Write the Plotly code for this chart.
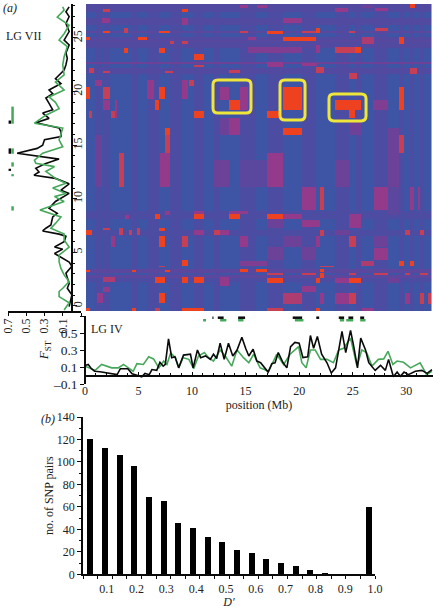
import plotly.graph_objects as go

W, H = 433, 609
FONT = "Liberation Serif"
INK = "#222222"
BLACK = "#0a0a0a"
GREEN = "#46A85A"

# ---- panel (a): LG IV scan (position in Mb, FST)
lg4_black_pos = [0,0.3,0.6,0.9,1.4,2,3,3.3,4,4.4,5.1,5.3,5.6,6,6.25,6.7,7,7.3,7.5,7.8,8.1,8.4,8.75,9.2,9.85,10.1,10.5,10.8,11.25,11.7,12,12.3,12.62,13,13.4,13.8,14.2,14.65,15,15.3,15.7,16.05,16.4,17.1,17.45,17.75,18.05,18.5,18.85,19.2,19.6,20,20.35,20.8,21.05,21.35,21.7,22.1,22.6,23,23.4,24,24.35,24.8,25.1,25.45,25.75,26.2,26.5,27.1,27.6,28.05,28.35,28.8,29.15,29.45,29.8,30.2,30.85,31.45,31.95,32.4]
lg4_black_fst = [.117,.13,.08,.05,.045,.03,.01,.08,.08,.02,-.01,-.015,.025,.01,.07,.06,.155,.11,.13,.43,.21,.22,.09,.24,.25,.09,.30,.21,.23,.19,.25,.2,.38,.19,.38,.23,.3,.45,.32,.23,.31,.17,.15,.04,.14,.15,.27,.15,.09,.34,.39,.38,.21,.22,.47,.32,.46,.25,.15,.03,.09,.52,.27,.53,.34,.09,.44,.30,.15,.06,.12,.06,.19,-.015,.04,-.01,.04,.01,.05,.06,.025,.07]
lg4_green_pos = [0,.95,1.55,2,2.5,3.1,3.6,4.05,4.5,4.85,5.45,5.95,6.4,6.9,7.35,7.65,8,8.45,8.75,9.15,9.7,10.15,10.6,11.15,11.55,12,12.62,13.1,13.7,14.2,14.8,15.3,15.75,16.35,17.15,17.9,18.55,19.15,19.95,20.25,20.65,21.05,21.5,22,22.6,23.2,23.7,24.15,24.8,25.4,25.85,26.3,26.8,27.4,27.9,28.3,28.75,29.15,29.75,30.4,31.3,31.9,32.4]
lg4_green_fst = [.11,.06,.13,.11,.09,.09,.13,.09,.05,.14,.13,.22,.195,.09,.17,.13,.265,.21,.09,.21,.19,.08,.23,.27,.21,.17,.30,.23,.11,.30,.21,.15,.25,.09,.05,.25,.13,.25,.34,.15,.09,.30,.30,.19,.19,.15,.30,.32,.44,.11,.30,.27,.11,.19,.195,.285,.13,.17,.155,.09,.15,.01,.05]

# ---- panel (a): LG VII scan (position in Mb, FST)
lg7_black_pos = [-0.06,1.03,1.65,2.1,3.05,3.7,4.1,4.6,4.9,5.3,5.5,6,6.5,6.7,7,7.25,7.55,8.3,8.65,9.1,9.75,10.5,10.8,11.4,11.9,12.2,12.5,12.85,13.3,13.7,14.25,14.7,15,15.5,15.8,16.25,16.6,17.1,17.5,18,18.3,18.9,19.4,19.8,20.15,20.75,21.2,22,22.5,23.1,23.6,24.35,24.8,25.6,26.35,27,27.45,27.9]
lg7_black_fst = [.03,0,.05,.03,.065,0,.03,.14,.19,.10,.19,.085,.065,.14,.32,.285,.23,.21,.16,.25,.18,.03,.12,.03,.18,.415,.36,.395,.285,.14,.60,.38,.32,.30,.12,.12,.14,.395,.25,.32,.21,.25,.285,.21,.25,.12,.18,.085,.065,.05,.065,.03,.085,.03,.065,.03,.065,.03]
lg7_green_pos = [-.37,.3,.87,1.35,1.65,2.27,2.9,3.5,4.1,4.75,5.5,6.15,6.7,7.25,7.7,8.3,8.95,9.4,9.75,10.2,10.5,11,11.45,11.9,12.55,13,13.3,13.6,14.25,14.85,15.5,16.6,17.05,17.8,18.4,19,19.5,20.15,20.9,21.55,22.5,23.25,24.2,24.8,25.4,26.2,26.95,27.6,27.9]
lg7_green_fst = [.085,.03,.14,.14,.10,.03,.085,.12,.14,.14,.03,.085,.085,.23,.18,.12,.35,.19,.085,.19,.065,.21,.065,.18,.285,.19,.395,.41,.32,.10,.14,.10,.41,.285,.14,.18,.25,.085,.18,.085,.10,.085,.05,.14,.085,.03,.16,.085,.10]

# ---- outlier windows (start, end in Mb)
lg4_black_hits = [(11.9,12.0),(12.4,12.95),(14.3,14.95),(19.4,20.28),(21.6,21.87),(23.7,24.2),(24.6,25.05),(25.7,26.07)]
lg4_green_hits = [(11.03,11.3),(12.62,13.2),(14.3,14.8),(19.6,20.4),(23.8,24.2),(24.4,25.05),(25.7,26.2)]
lg7_black_hits = [(17.0,17.3),(14.2,14.7),(12.6,12.8)]
lg7_green_hits = [(17.0,18.6),(14.2,14.7),(13.0,13.4),(12.1,12.3),(8.9,9.3)]
HIT_BLACK_FST, HIT_GREEN_FST = 0.68, 0.65

# ---- LD matrix: bands and blocks (LG IV Mb from, to, LG VII Mb from, to, level)
LD_X0, LD_X1, LD_Y0, LD_Y1 = 0.09, 32.38, -0.47, 28.17
ld_column_bands = [(.93,1.59,1),(1.68,2.34,1),(4.39,4.95,1),(5.79,6.92,1),(7.94,9.07,1),(10.19,11.12,1),(12.06,12.62,1),(14.49,15.98,1),(17.01,18.5,1),(20.28,21.59,1),(23.36,24.67,1),(25.33,25.79,1),(27.01,28.32,1),(29.35,29.81,1),(30.37,30.75,1),(31.31,31.68,1)]
ld_row_bands = [(27.43,28.17,1.2),(26.21,26.87,1.2),(24.07,25.09,1.2),(22.6,22.76,2),(21.64,22.2,1.2),(3.08,3.45,1.5),(2.61,2.89,1.5),(2.24,2.61,1),(6.53,7.09,1),(8.12,8.86,1),(25.47,25.65,1.5),(24.72,24.81,1.5)]
ld_blocks_left = [
 (1.68,2.34,27.43,27.71,4),(9.07,9.63,27.43,27.71,5),(1.59,2.34,26.40,26.87,3),(9.07,9.63,26.21,26.87,3),
 (1.68,2.34,25.47,25.65,5),(3.64,4.02,25.47,25.93,4),(.09,.47,24.81,25.09,5),(4.95,5.79,24.81,25.09,5),
 (6.92,7.94,25.47,25.65,5),(7.94,8.32,24.44,24.72,4),(9.07,9.63,24.44,24.72,4),(3.64,4.02,23.6,24.07,5),
 (6.92,7.48,23.6,24.07,5),(10.19,11.12,22.95,23.51,5),(10.19,11.12,22.29,22.48,4),(.37,.84,21.74,22.2,4),
 (1.68,2.34,21.74,21.92,4),(7.48,8.22,21.74,21.92,4),(.09,.47,19.31,20.43,5),(1.68,2.34,19.31,20.43,4),
 (6.92,7.48,19.31,20.43,5),(5.79,6.45,19.31,21.08,3),(.93,1.59,20.52,21.08,3),(9.72,10.19,20.52,21.08,4),
 (9.07,9.63,19.31,21.08,3),(6.54,6.92,18.28,19.22,5),(1.68,2.34,18.28,19.22,3),(10.19,11.12,17.54,18.19,5),
 (2.43,2.8,17.54,18.19,4),(.37,.65,17.54,18.19,4),(2.8,2.99,17.54,19.22,3),(7.48,7.94,15.95,16.6,5),
 (7.48,7.94,14.27,15.95,4),(7.01,7.94,11.1,14.27,3),(3.18,3.64,11.1,14.27,4),(.93,1.59,11.1,15.95,2),
 (6.54,7.01,8.12,8.58,5),(10.19,11.12,8.12,8.58,5),(10.19,11.12,8.58,8.86,3),(3.74,4.11,8.12,8.49,3),
 (7.48,7.94,8.49,8.86,3),(.09,.65,6.62,7.09,5),(1.68,2.34,7.09,7.28,4),(3.18,3.55,6.62,7.28,4),
 (4.11,4.39,6.62,7.09,4),(4.86,5.14,6.62,7.28,4),(6.92,7.48,7.0,7.28,5),(10.19,11.12,6.62,7.09,3),
 (12.06,12.62,6.62,7.09,4),(6.92,7.48,5.5,6.53,5),(2.43,2.8,5.5,6.53,3),(9.07,9.63,5.5,6.53,4),
 (9.07,9.63,3.73,4.29,5),(6.92,7.48,3.64,3.73,4),(.09,.47,3.17,3.36,5),(4.39,4.77,3.17,3.36,5),
 (7.48,7.94,3.17,3.36,5),(6.54,7.48,2.15,2.71,5),(9.07,9.63,2.15,2.71,5),(10.19,11.12,2.15,2.71,5),
 (1.68,2.8,2.24,2.71,3.5),(1.68,2.34,1.31,1.77,3),(6.92,7.48,.28,1.21,5),(1.12,1.68,.28,1.21,3),
 (.09,.47,-.47,-.19,5),(4.39,4.77,-.47,-.19,5),(6.54,7.01,-.47,-.19,4),(9.07,11.12,-.47,-.19,5),
]
ld_blocks_right_top = [
 (14.49,15.23,27.8,28.08,3),(16.07,17.01,27.8,28.08,3),(18.5,20.28,26.4,26.87,3),(23.36,24.58,27.43,27.8,3),
 (25.89,26.92,27.8,28.08,2),(27.1,28.32,27.52,27.8,3),(17.01,18.5,25.37,25.65,5),(14.49,15.23,25.47,25.65,4),
 (20.28,21.68,25.47,25.65,4),(21.59,21.96,25.47,25.93,5),(18.5,21.59,24.72,25.09,5),(27.1,28.32,25.65,25.93,4),
 (24.67,25.23,25.47,25.65,4),(25.89,27.01,24.44,25.09,3.5),(29.35,29.81,24.44,25.09,5),(15.23,15.98,24.81,25.09,3),
 (15.23,20.28,23.6,24.16,2.5),(23.36,25.23,23.6,24.16,4),(25.23,25.79,23.6,24.16,5),(21.59,21.96,23.6,24.35,3),
 (17.01,18.5,22.29,22.76,3),(20.28,21.68,22.39,22.7,3),(13.46,14.49,21.74,22.01,4),(21.59,22.34,21.74,22.29,4),
 (24.67,25.42,21.18,21.74,4),(30.37,31.03,21.64,22.2,4),(30.37,30.84,27.8,28.17,5),(29.35,29.81,18.28,20.43,5),
 (18.5,20.28,18.28,20.43,5),(13.46,14.49,18.28,19.22,5),(12.62,13.46,19.22,20.43,3),(14.49,15.23,18.28,20.43,3),
 (17.01,18.22,17.54,18.19,5),(23.36,25.79,18.28,19.22,5),(24.67,25.23,17.54,18.28,5),(18.5,20.28,15.95,16.6,5),
 (13.46,14.49,15.95,17.54,3),(12.62,13.46,15.95,17.54,2),(26.92,28.32,18.28,19.22,2.5),(17.01,18.5,11.1,14.27,3),
 (29.35,29.81,14.27,15.95,4),(28.32,29.35,11.1,16.6,2),(24.67,25.79,15.95,17.26,2),
]
ld_blocks_right_low = [
 (20.28,21.59,8.96,11.1,3),(21.96,22.34,8.96,11.1,4),(27.01,28.32,8.96,11.1,3),(30.37,30.75,8.96,11.1,3),
 (31.12,31.31,8.96,11.1,3),(13.46,14.49,8.12,8.58,5),(13.46,15.23,8.58,8.86,3),(17.01,18.5,8.12,8.58,5),
 (18.5,20.28,8.12,8.58,3),(17.01,18.5,7.28,8.12,2),(24.67,25.79,7.28,8.58,3),(20.28,21.96,7.37,8.02,3),
 (21.96,22.34,6.53,7.09,4),(12.62,13.46,6.62,7.09,3),(23.36,24.67,6.62,7.09,2),(29.91,30.37,6.62,7.09,4),
 (31.31,31.68,6.62,7.09,4),(14.49,15.23,5.5,6.53,3),(21.59,21.96,5.5,6.53,3),(24.67,25.33,5.5,6.53,4),
 (27.01,28.32,5.5,6.53,2),(18.5,20.28,5.5,6.53,2),(27.01,28.32,4.29,5.41,3),(17.01,18.5,4.29,5.5,2),
 (20.28,21.59,4.29,5.5,2),(29.35,29.81,3.73,4.2,5),(30.37,30.75,3.73,4.2,5),(25.79,27.01,3.73,4.2,3.5),
 (14.49,17.01,3.73,4.2,2.5),(21.96,23.27,3.64,3.73,4),(14.49,15.23,3.17,3.45,5),(15.98,17.01,3.17,3.45,5),
 (21.96,22.34,3.17,3.45,5),(21.96,22.34,2.61,3.08,5),(17.01,18.5,2.89,3.08,4),(20.28,21.59,2.89,3.08,4),
 (24.67,25.33,2.89,3.08,4),(27.01,28.32,2.89,3.08,4),(31.31,32.06,2.89,3.08,4),(29.91,30.37,2.89,3.08,4),
 (17.01,18.5,2.15,2.61,5),(21.59,21.96,2.15,2.61,5),(24.67,25.79,2.15,2.61,5),(23.36,24.67,2.15,2.61,3),
 (12.62,13.46,1.87,2.71,3),(28.32,29.35,2.15,2.61,2),(20.28,21.59,1.31,1.87,3),(18.5,20.28,.19,1.21,3.5),
 (21.96,22.34,.19,1.21,3),(23.36,24.67,.19,1.21,3),(24.67,25.33,.19,1.21,4),(29.91,30.37,.19,1.21,3),
 (31.31,31.68,.19,1.21,4),(32.06,32.34,.19,1.21,4),(17.01,18.5,-.47,-.19,4),(21.59,21.96,-.47,-.19,5),
 (25.89,27.01,-.47,-.19,3),(12.06,12.62,11.1,13.62,2),(12.62,13.46,11.1,13.62,2),(14.49,17.01,11.1,13.62,1.5),
 (23.36,24.67,11.1,13.62,2),(28.32,29.35,8.5,11.1,1.5),
]
highlight_boxes = [(11.96,15.51,18.0,21.08),(18.22,20.56,17.35,21.08),(22.8,26.26,17.26,19.78)]

# ---- panel (b): D' histogram
dprime_bins = [.045,.094,.143,.193,.242,.291,.340,.389,.439,.488,.537,.586,.635,.685,.734,.783,.832,.881,.931,.980]
snp_pairs = [120,112.5,106.5,96,69,65,46,41,33,28.5,22,19,14,10,7,3.5,1,0,0,59.5]
dprime_tick_marks = [.0205,.0695,.1185,.1675,.2165,.2655,.3145,.3635,.4125,.4615,.5105,.5595,.6085,.6575,.7065,.7555,.8045,.8535,.9025,.9515,1.0]
dprime_labels = [.1,.2,.3,.4,.5,.6,.7,.8,.9,1.0]

# ---- build the LD grid from the bands and blocks
all_blocks = ([(a,b,LD_Y0,LD_Y1,l) for a,b,l in ld_column_bands]
              + [(LD_X0,LD_X1,a,b,l) for a,b,l in ld_row_bands]
              + ld_blocks_left + ld_blocks_right_top + ld_blocks_right_low)
x_edges = sorted({LD_X0, LD_X1} | {v for b in all_blocks for v in b[:2]})
y_edges = sorted({LD_Y0, LD_Y1} | {v for b in all_blocks for v in b[2:4]})
ld_z = []
for yi in range(len(y_edges)-1):
    row = []
    cy = (y_edges[yi]+y_edges[yi+1])/2
    for xi in range(len(x_edges)-1):
        cx = (x_edges[xi]+x_edges[xi+1])/2
        lv = 0
        for x0,x1,y0,y1,l in all_blocks:
            if x0 <= cx <= x1 and y0 <= cy <= y1:
                lv = max(lv, l)
        row.append(lv)
    ld_z.append(row)

def segs(hits, level):
    a, b = [], []
    for s, e in hits:
        a += [s, e, None]
        b += [level, level, None]
    return a, b

def hx(p): return p / W
def vy(p): return 1 - p / H

fig = go.Figure()
fig.add_trace(go.Heatmap(x=x_edges, y=y_edges, z=ld_z, zmin=0, zmax=5, showscale=False, xaxis="x", yaxis="y",
    colorscale=[[0,"#3E55A6"],[.2,"#4B4CA2"],[.4,"#6B4298"],[.6,"#933A8A"],[.8,"#C63F55"],[1,"#EE4120"]]))

line = lambda c, w=1.6: dict(color=c, width=w)
fig.add_trace(go.Scatter(x=lg7_black_fst, y=lg7_black_pos, mode="lines", line=line(BLACK), xaxis="x2", yaxis="y2"))
fig.add_trace(go.Scatter(x=lg7_green_fst, y=lg7_green_pos, mode="lines", line=line(GREEN), xaxis="x2", yaxis="y2"))
for hits, lv, c in [(lg7_green_hits, HIT_GREEN_FST, GREEN), (lg7_black_hits, HIT_BLACK_FST, BLACK)]:
    ys, xs = segs(hits, lv)
    fig.add_trace(go.Scatter(x=xs, y=ys, mode="lines", line=line(c, 2.5), xaxis="x2", yaxis="y2"))

fig.add_trace(go.Scatter(x=lg4_green_pos, y=lg4_green_fst, mode="lines", line=line(GREEN), xaxis="x3", yaxis="y3"))
fig.add_trace(go.Scatter(x=lg4_black_pos, y=lg4_black_fst, mode="lines", line=line(BLACK), xaxis="x3", yaxis="y3"))
for hits, lv, c in [(lg4_green_hits, HIT_GREEN_FST, GREEN), (lg4_black_hits, HIT_BLACK_FST, BLACK)]:
    xs, ys = segs(hits, lv)
    fig.add_trace(go.Scatter(x=xs, y=ys, mode="lines", line=line(c, 2.5), xaxis="x3", yaxis="y3"))

fig.add_trace(go.Bar(x=dprime_bins, y=snp_pairs, width=.02, marker=dict(color="black", line=dict(width=0)), xaxis="x4", yaxis="y4"))

common = dict(showgrid=False, zeroline=False, color=INK, linecolor=BLACK, tickcolor=BLACK, automargin=False)
f = lambda s: dict(family=FONT, size=s, color=INK)

# rounded highlight boxes, in data coordinates of the LD panel
shapes = []
r = 0.45
for x0,x1,y0,y1 in highlight_boxes:
    path = (f"M {x0+r} {y1} L {x1-r} {y1} Q {x1} {y1} {x1} {y1-r} L {x1} {y0+r} Q {x1} {y0} {x1-r} {y0} "
            f"L {x0+r} {y0} Q {x0} {y0} {x0} {y0+r} L {x0} {y1-r} Q {x0} {y1} {x0+r} {y1} Z")
    shapes.append(dict(type="path", path=path, xref="x", yref="y", line=dict(color="#EFE63A", width=3)))

notes = [("<i>(a)</i>", 10, 8, 12), ("LG VII", 23, 36, 12), ("LG IV", 107, 329, 12), ("<i>(b)</i>", 48, 419, 12)]
annotations = [dict(text=t, x=hx(a), y=vy(b), xref="paper", yref="paper", showarrow=False, font=f(s),
                    xanchor="center", yanchor="middle") for t,a,b,s in notes]

fig.update_layout(
    width=W, height=H, autosize=False, margin=dict(l=0,r=0,t=0,b=0), showlegend=False,
    paper_bgcolor="white", plot_bgcolor="rgba(0,0,0,0)", font=f(12), shapes=shapes, annotations=annotations,
    bargap=0,
    xaxis=dict(domain=[hx(86),hx(431.5)], range=[LD_X0,LD_X1], visible=False, anchor="y", automargin=False),
    yaxis=dict(domain=[vy(311),vy(4)], range=[LD_Y0,LD_Y1], visible=False, anchor="x", automargin=False),
    xaxis2=dict(common, domain=[hx(8),hx(81)], range=[.7,-.1], anchor="y2", showline=True, linewidth=1.5,
        ticks="outside", ticklen=3, tickvals=[.7,.5,.3,.1], ticktext=["0.7","0.5","0.3","0.1"],
        tickangle=-90, tickfont=f(12), ticklabelstandoff=-2,
        minor=dict(ticks="outside", ticklen=3, tickmode="array", tickvals=[-.1], tickcolor=BLACK)),
    yaxis2=dict(common, domain=[vy(311),vy(4)], range=[LD_Y0,LD_Y1], anchor="free", position=hx(72), side="right",
        showline=True, linewidth=1.5, ticks="outside", ticklen=4, tickvals=[0,5,10,15,20,25], tickangle=-90,
        tickfont=f(12), ticklabelstandoff=-9, minor=dict(ticks="outside", ticklen=2, dtick=1, tickcolor=BLACK)),
    xaxis3=dict(common, domain=[hx(85),hx(433)], range=[0,32.5], anchor="free", position=vy(376), showline=True,
        linewidth=1.5, ticks="inside", ticklen=3, tickvals=[0,5,10,15,20,25,30], tickfont=f(12), ticklabelstandoff=4,
        minor=dict(ticks="inside", ticklen=2, dtick=1, tickcolor=BLACK),
        title=dict(text="position (Mb)", font=f(12), standoff=1)),
    yaxis3=dict(common, domain=[vy(384),vy(316)], range=[-.1,.7], anchor="free", position=hx(85), showline=True,
        linewidth=1.5, ticks="outside", ticklen=4, tickvals=[-.1,.1,.3,.5], ticktext=["–0.1","0.1","0.3","0.5"],
        tickfont=f(13.5), title=dict(text="<i>F</i><sub>ST</sub>", font=f(13), standoff=0),
        minor=dict(ticks="outside", ticklen=4, tickmode="array", tickvals=[.7], tickcolor=BLACK)),
    xaxis4=dict(common, domain=[hx(83),hx(375)], range=[.0205,1.0], anchor="y4", showline=True, linewidth=1.5,
        ticks="", tickvals=dprime_labels, ticktext=[f"{v:.1f}" for v in dprime_labels], tickfont=f(12),
        ticklabelstandoff=3,
        minor=dict(ticks="outside", ticklen=3, tickmode="array", tickvals=dprime_tick_marks, tickcolor=BLACK),
        title=dict(text="<i>D′</i>", font=f(12), standoff=2)),
    yaxis4=dict(common, domain=[vy(574.3),vy(417)], range=[0,140], anchor="x4", showline=True, linewidth=1.5,
        ticks="outside", ticklen=4, dtick=20, tickfont=f(12),
        minor=dict(ticks="outside", ticklen=2, dtick=10, tickcolor=BLACK),
        title=dict(text="no. of SNP pairs", font=f(12), standoff=1)),
)

fig.write_html("out.html", config={"displayModeBar": False},
               post_script="document.body.style.margin='0';document.body.style.overflow='hidden';")
